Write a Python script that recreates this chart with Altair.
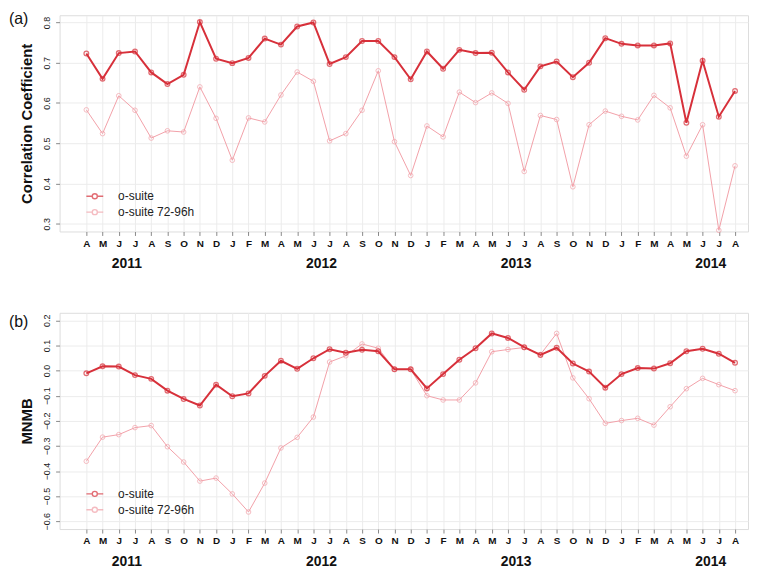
import altair as alt
import pandas as pd

# ---------------- data ----------------
start_month = "2011-04-01"
n_months = 41
series_names = ["o-suite", "o-suite 72-96h"]
colors = ["#d7303a", "#f2a0a8"]

corr_osuite = [0.723, 0.660, 0.724, 0.728, 0.676, 0.647, 0.670, 0.801, 0.710, 0.699,
               0.712, 0.760, 0.745, 0.790, 0.800, 0.697, 0.714, 0.754, 0.754, 0.714,
               0.659, 0.728, 0.685, 0.732, 0.724, 0.725, 0.676, 0.633, 0.691, 0.703,
               0.664, 0.700, 0.761, 0.747, 0.743, 0.743, 0.748, 0.551, 0.705, 0.566,
               0.630]
corr_72_96 = [0.583, 0.524, 0.618, 0.582, 0.513, 0.531, 0.528, 0.640, 0.562, 0.458,
              0.563, 0.553, 0.620, 0.677, 0.654, 0.506, 0.524, 0.582, 0.680, 0.504,
              0.420, 0.543, 0.516, 0.627, 0.601, 0.625, 0.599, 0.430, 0.569, 0.559,
              0.392, 0.546, 0.580, 0.567, 0.558, 0.619, 0.588, 0.468, 0.546, 0.284,
              0.444]
mnmb_osuite = [-0.011, 0.017, 0.016, -0.018, -0.033, -0.080, -0.113, -0.139, -0.056, -0.102,
               -0.091, -0.021, 0.039, 0.007, 0.049, 0.085, 0.071, 0.083, 0.077, 0.005,
               0.005, -0.071, -0.014, 0.043, 0.089, 0.148, 0.130, 0.093, 0.062, 0.091,
               0.028, -0.004, -0.068, -0.014, 0.010, 0.008, 0.029, 0.077, 0.087, 0.067,
               0.031]
mnmb_72_96 = [-0.361, -0.265, -0.255, -0.227, -0.219, -0.303, -0.364, -0.440, -0.428, -0.491,
              -0.563, -0.448, -0.308, -0.266, -0.185, 0.034, 0.059, 0.106, 0.089, 0.005,
              0.005, -0.100, -0.117, -0.117, -0.049, 0.075, 0.084, 0.092, 0.064, 0.148,
              -0.029, -0.112, -0.210, -0.199, -0.190, -0.217, -0.144, -0.072, -0.031, -0.056,
              -0.080]

corr_ticks = [0.3, 0.4, 0.5, 0.6, 0.7, 0.8]
mnmb_ticks = [-0.6, -0.5, -0.4, -0.3, -0.2, -0.1, 0.0, 0.1, 0.2]

# ---------------- derived labels ----------------
dates = pd.date_range(start_month, periods=n_months, freq="MS")
month_letters = [d.strftime("%b")[0] for d in dates]
years = sorted(set(d.year for d in dates))
year_pos = [[i for i, d in enumerate(dates) if d.year == y and d.month == 7][0] - 0.5
            for y in years]
label_expr = "[" + ",".join("'%s'" % m for m in month_letters) + "][datum.value]"

FONT = "Liberation Sans"
W = 694
H = 218
XDOM = [-1.65, 40.8]
LEGEND_SHAPE = ("M-1,0L-0.3,0M0.3,0L1,0"
                "M-0.3,0A0.3,0.3,0,1,1,0.3,0A0.3,0.3,0,1,1,-0.3,0Z")


def panel(v_main, v_72, title, tag, ydom, yticks, tag_y):
    df = pd.DataFrame({
        "i": list(range(n_months)) * 2,
        "v": v_main + v_72,
        "series": [series_names[0]] * n_months + [series_names[1]] * n_months,
    })
    x_axis = alt.Axis(values=list(range(n_months)), labelExpr=label_expr,
                      labelOverlap=False, labelFlush=False,
                      title=None, grid=True, gridColor="#ececec", domain=False,
                      tickColor="#888888", tickSize=4, labelFont=FONT,
                      labelFontWeight="bold", labelFontSize=10, labelPadding=3,
                      labelColor="#111111")
    x = alt.X("i:Q", scale=alt.Scale(domain=XDOM, nice=False, zero=False), axis=x_axis)
    y = alt.Y("v:Q",
              scale=alt.Scale(domain=ydom, nice=False, zero=False),
              axis=alt.Axis(values=yticks, format=".1f", labelAngle=270,
                            labelAlign="center", labelBaseline="bottom",
                            labelOverlap=False, labelFlush=False,
                            labelFont=FONT, labelFontSize=9, labelColor="#222222",
                            tickColor="#888888", tickSize=4, labelPadding=4,
                            domain=False, grid=True, gridColor="#ececec",
                            title=title, titleFont=FONT, titleFontSize=15,
                            titleFontWeight="bold", titleColor="#111111",
                            titlePadding=8))
    color = alt.Color("series:N",
                      scale=alt.Scale(domain=series_names, range=colors),
                      legend=alt.Legend(orient="none", legendX=26, legendY=173,
                                        title=None, symbolType=LEGEND_SHAPE,
                                        symbolSize=289, symbolStrokeWidth=1.4,
                                        symbolFillColor="transparent",
                                        labelFont=FONT, labelFontSize=12,
                                        labelColor="#222222", labelOffset=14,
                                        rowPadding=0, padding=0))
    base = alt.Chart(df).encode(x=x, y=y, color=color)
    sub = base.transform_filter(alt.datum.series == series_names[1])
    main = base.transform_filter(alt.datum.series == series_names[0])
    layers = [
        sub.mark_line(strokeWidth=1),
        sub.mark_point(filled=False, size=22, strokeWidth=1),
        main.mark_line(strokeWidth=2),
        main.mark_point(filled=False, size=22, strokeWidth=1.3),
    ]
    ydf = pd.DataFrame({"year": [str(y) for y in years], "pos": year_pos})
    year_txt = alt.Chart(ydf).mark_text(font=FONT, fontSize=14, fontWeight="bold",
                                        color="#111111", baseline="middle").encode(
        x=alt.X("pos:Q", scale=alt.Scale(domain=XDOM, nice=False, zero=False),
                axis=x_axis),
        y=alt.value(H + 33), text="year:N")
    tag_txt = alt.Chart(pd.DataFrame({"t": [tag]})).mark_text(
        font=FONT, fontSize=16, align="left", baseline="top", color="#111111").encode(
        x=alt.value(-51), y=alt.value(tag_y), text="t:N")
    return alt.layer(*layers, year_txt, tag_txt).properties(width=W, height=H)


top = panel(corr_osuite, corr_72_96, "Correlation Coefficient", "(a)",
            [0.281, 0.818], corr_ticks, -4)
bottom = panel(mnmb_osuite, mnmb_72_96, "MNMB", "(b)",
               [-0.631, 0.230], mnmb_ticks, 1)

chart = alt.vconcat(top, bottom, spacing=40).resolve_scale(
    color="independent").resolve_legend(color="independent").properties(
    padding=0).configure_view(stroke="#8c8c8c", strokeWidth=1).configure(font=FONT)

chart.save("out.html", embed_options={"renderer": "svg", "actions": False})
